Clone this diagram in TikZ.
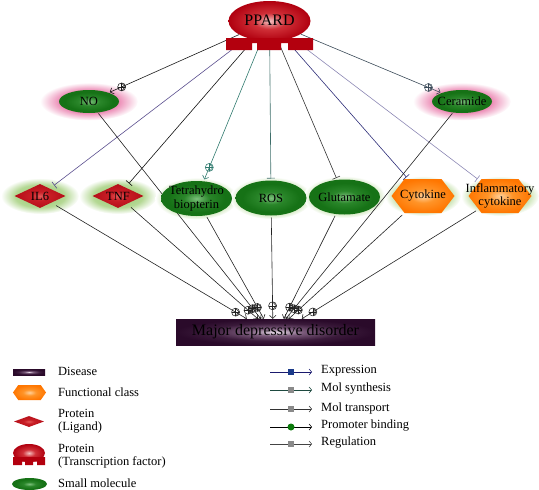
\documentclass[tikz,border=0pt]{standalone}
\usepackage{fontspec}
\setmainfont{Liberation Serif}
\usetikzlibrary{shapes.geometric,shapes.symbols,arrows.meta,decorations.markings,calc}

\definecolor{gmlight}{HTML}{7CC07C}
\definecolor{gmmid}{HTML}{2A862A}
\definecolor{gmdark}{HTML}{167216}
\definecolor{glowA}{HTML}{94C66C}
\definecolor{glowB}{HTML}{B4D894}
\definecolor{pinkA}{HTML}{DC4888}
\definecolor{pinkB}{HTML}{EC8CB6}
\definecolor{redA}{HTML}{E45858}
\definecolor{redB}{HTML}{C81E26}
\definecolor{redC}{HTML}{B40E18}
\definecolor{orA}{HTML}{FFD09A}
\definecolor{orB}{HTML}{FF9428}
\definecolor{orC}{HTML}{FF7600}
\definecolor{mdA}{HTML}{E6DAE6}
\definecolor{mdB}{HTML}{7A5A7A}
\definecolor{mdC}{HTML}{3A1A3A}
\definecolor{mdD}{HTML}{2A0A2A}
\definecolor{ppA}{HTML}{F4C0C0}
\definecolor{ppB}{HTML}{D03038}
\definecolor{ppC}{HTML}{B0000F}
\definecolor{tfbase}{HTML}{B3000E}
\definecolor{cNO}{HTML}{1A1A1A}
\definecolor{cIL}{HTML}{5A4E8E}
\definecolor{cTNF}{HTML}{111111}
\definecolor{cTHB}{HTML}{2F7A6E}
\definecolor{cROS}{HTML}{3E6E6A}
\definecolor{cGLU}{HTML}{333333}
\definecolor{cCYT}{HTML}{2D2D78}
\definecolor{cINF}{HTML}{8C88B4}
\definecolor{cCER}{HTML}{3A4A58}
\definecolor{cMDD}{HTML}{222222}
\definecolor{cEXP}{HTML}{1A1A6E}
\definecolor{sqEXP}{HTML}{1A3A8A}
\definecolor{cSYN}{HTML}{1E4A40}
\definecolor{cTRA}{HTML}{333333}
\definecolor{cREG}{HTML}{444444}
\definecolor{sqGray}{HTML}{8A8A8A}
\definecolor{pbGreen}{HTML}{0A7A0A}

\pgfdeclareradialshading{shgreen}{\pgfpoint{0bp}{0bp}}{color(0bp)=(gmlight); color(9bp)=(gmmid); color(20bp)=(gmdark); color(50bp)=(gmdark)}
\pgfdeclareradialshading{shglowg}{\pgfpoint{0bp}{0bp}}{color(0bp)=(glowA); color(16bp)=(glowB); color(25bp)=(white); color(50bp)=(white)}
\pgfdeclareradialshading{shpink}{\pgfpoint{0bp}{0bp}}{color(0bp)=(pinkA); color(15bp)=(pinkB); color(25bp)=(white); color(50bp)=(white)}
\pgfdeclareradialshading{shred}{\pgfpoint{0bp}{0bp}}{color(0bp)=(redA); color(9bp)=(redB); color(25bp)=(redC); color(50bp)=(redC)}
\pgfdeclareradialshading{shorange}{\pgfpoint{0bp}{0bp}}{color(0bp)=(orA); color(10bp)=(orB); color(25bp)=(orC); color(50bp)=(orC)}
\pgfdeclareradialshading{shmdd}{\pgfpoint{0bp}{0bp}}{color(0bp)=(mdA); color(7bp)=(mdB); color(17bp)=(mdC); color(25bp)=(mdD); color(50bp)=(mdD)}
\pgfdeclareradialshading{shppard}{\pgfpoint{0bp}{0bp}}{color(0bp)=(ppA); color(10bp)=(ppB); color(25bp)=(ppC); color(50bp)=(ppC)}

\pgfdeclarelayer{glowlayer}
\pgfdeclarelayer{edgelayer}
\pgfsetlayers{glowlayer,edgelayer,main}

\tikzset{
  lbl/.style={font=\fontsize{12.5}{13.5}\selectfont, align=center, inner sep=0pt, text=black},
  legt/.style={font=\fontsize{12.5}{13.5}\selectfont, align=left, inner sep=3pt, text=black},
  mol/.style={ellipse, draw=none, shade, shading=shgreen, minimum width=71pt, minimum height=35pt, inner sep=0pt, outer sep=2pt},
  smol/.style={mol, minimum width=60pt, minimum height=23pt, outer sep=1pt},
  lig/.style={diamond, draw=none, shade, shading=shred, minimum width=55pt, minimum height=28pt, inner sep=0pt, outer sep=5pt},
  fclass/.style={signal, signal to=west and east, signal pointer angle=105, draw=none, shade, shading=shorange, minimum width=63pt, minimum height=34pt, inner sep=0pt, outer sep=3pt},
  disease/.style={rectangle, draw=none, shade, shading=shmdd, minimum width=199pt, minimum height=26pt, inner sep=0pt},
  tf/.style={ellipse, draw=none, shade, shading=shppard, minimum width=82pt, minimum height=40pt, inner sep=0pt},
  ed/.style={line width=0.6pt},
  oplus/.style={circle, draw, line width=0.55pt, minimum size=8pt, inner sep=0pt,
    path picture={\draw[line width=0.55pt] (path picture bounding box.north) -- (path picture bounding box.south) (path picture bounding box.west) -- (path picture bounding box.east);}},
  act/.style={-{Straight Barb[length=3pt,width=6.5pt]}, postaction={decorate},
    decoration={markings, mark=at position -13pt with {\node[oplus]{};}}},
  inh/.style={-{Bar[width=8pt]}},
  legarr/.style={-{Straight Barb[length=2.5pt,width=6pt]}},
  sq/.style={rectangle, draw=none, minimum size=6pt, inner sep=0pt},
}

\begin{document}
\begin{tikzpicture}[x=1pt,y=-1pt]
\useasboundingbox (0,0) rectangle (539,490);

% ---------- main nodes ----------
\node[tf] (ppard) at (269.5,21) {};
\fill[tfbase, shift={(ppard.center)}] (-43.5,17) -- (43.5,17) -- (43.5,29) -- (18.5,29) -- (18.5,22) -- (11.5,22) -- (11.5,29) -- (-12.5,29) -- (-12.5,22) -- (-17.5,22) -- (-17.5,29) -- (-43.5,29) -- cycle;
\node[lbl, font=\fontsize{16}{17}\selectfont] (ppardt) at (269.5,20) {PPARD};

\node[smol, label={[lbl]center:NO}] (no) at (89,101.5) {};
\node[smol, label={[lbl]center:Ceramide}] (cer) at (462,101.5) {};

\node[lig, label={[lbl]center:IL6}] (il6) at (40,196) {};
\node[lig, label={[lbl]center:TNF}] (tnf) at (118,196) {};
\node[mol, label={[lbl]center:Tetrahydro\\biopterin}] (thb) at (196.5,198.5) {};
\node[mol, label={[lbl]center:ROS}] (ros) at (271,198) {};
\node[mol, label={[lbl]center:Glutamate}] (glu) at (344.5,197) {};
\node[fclass, label={[lbl]center:Cytokine}] (cyt) at (423,196) {};
\node[fclass, label={[lbl]center:Inflammatory\\cytokine}] (inf) at (500,196) {};

\node[disease, label={[lbl, font=\fontsize{16}{17}\selectfont, text=black]center:Major depressive disorder}] (mdd) at (275.5,332) {};

% ---------- glows ----------
\begin{pgfonlayer}{glowlayer}
\shade[shading=shpink] (no.center) ellipse [x radius=49pt, y radius=19pt];
\shade[shading=shpink] (cer.center) ellipse [x radius=49pt, y radius=19pt];
\shade[shading=shglowg] (il6.center) ellipse [x radius=39pt, y radius=18pt];
\shade[shading=shglowg] (tnf.center) ellipse [x radius=39pt, y radius=18pt];
\shade[shading=shglowg] (thb.center) ellipse [x radius=41pt, y radius=21pt];
\shade[shading=shglowg] (ros.center) ellipse [x radius=41pt, y radius=21pt];
\shade[shading=shglowg] (glu.center) ellipse [x radius=41pt, y radius=21pt];
\shade[shading=shglowg] (cyt.center) ellipse [x radius=38pt, y radius=20pt];
\shade[shading=shglowg] (inf.center) ellipse [x radius=39pt, y radius=20pt];
\end{pgfonlayer}

% ---------- edges ----------
\begin{pgfonlayer}{edgelayer}
\draw[ed, cNO, act] (ppard) -- (no);
\draw[ed, cIL, inh] (ppard) -- (il6);
\draw[ed, cTNF, inh] (ppard) -- (tnf);
\draw[ed, cTHB, act] (ppard) -- (thb);
\draw[ed, cROS, inh] (ppard) -- (ros);
\draw[ed, cGLU, inh] (ppard) -- (glu);
\draw[ed, cCYT, inh] (ppard) -- (cyt);
\draw[ed, cINF, inh] (ppard) -- (inf);
\draw[ed, cCER, act] (ppard) -- (cer);

\draw[ed, cMDD, act] (il6) -- ($(mdd.north west)+(71,0)$);
\draw[ed, cMDD, act] (tnf) -- ($(mdd.north west)+(82,0)$);
\draw[ed, cMDD, act] (no) -- ($(mdd.north west)+(85,0)$);
\draw[ed, cMDD, act] (thb) -- ($(mdd.north west)+(88,0)$);
\draw[ed, cMDD, act] (ros) -- ($(mdd.north west)+(97,0)$);
\draw[ed, cMDD, act] (glu) -- ($(mdd.north west)+(108,0)$);
\draw[ed, cMDD, act] (cer) -- ($(mdd.north west)+(110,0)$);
\draw[ed, cMDD, act] (cyt) -- ($(mdd.north west)+(113,0)$);
\draw[ed, cMDD, act] (inf) -- ($(mdd.north west)+(126,0)$);
\end{pgfonlayer}

% ---------- left legend ----------
\node[disease, minimum width=32pt, minimum height=6pt] (lg1) at (29,372) {};
\node[legt, anchor=west] (lt1) at (55,371) {Disease};
\node[fclass, minimum width=33pt, minimum height=15pt, signal pointer angle=110] (lg2) at (29.5,392.5) {};
\node[legt, anchor=west] (lt2) at (55,392) {Functional class};
\node[lig, minimum width=34pt, minimum height=15pt] (lg3) at (29,421.5) {};
\node[legt, anchor=west] (lt3) at (55,421) {Protein\\(Ligand)};
\node[tf, minimum width=32pt, minimum height=18pt] (lg4) at (29,453) {};
\fill[tfbase, shift={(lg4.center)}] (-16,4) -- (16,4) -- (16,12) -- (8,12) -- (8,8.5) -- (4,8.5) -- (4,12) -- (-4,12) -- (-4,8.5) -- (-7,8.5) -- (-7,12) -- (-16,12) -- cycle;
\node[legt, anchor=west] (lt4) at (55,456) {Protein\\(Transcription factor)};
\node[mol, minimum width=35pt, minimum height=12pt] (lg5) at (29.5,484) {};
\node[legt, anchor=west] (lt5) at (55,483) {Small molecule};

% ---------- right legend ----------
\coordinate (ra1) at (270,372); \coordinate (rb1) at (312,372);
\coordinate (ra2) at (270,390); \coordinate (rb2) at (312,390);
\coordinate (ra3) at (270,409); \coordinate (rb3) at (312,409);
\coordinate (ra4) at (270,427); \coordinate (rb4) at (312,427);
\coordinate (ra5) at (270,444); \coordinate (rb5) at (312,444);
\draw[ed, cEXP, legarr] (ra1) -- (rb1);
\draw[ed, cSYN, legarr] (ra2) -- (rb2);
\draw[ed, cTRA, legarr] (ra3) -- (rb3);
\draw[ed, black, legarr] (ra4) -- (rb4);
\draw[ed, cREG, legarr] (ra5) -- (rb5);
\node[sq, fill=sqEXP] (rs1) at ($(ra1)!0.5!(rb1)$) {};
\node[sq, fill=sqGray] (rs2) at ($(ra2)!0.5!(rb2)$) {};
\node[sq, fill=sqGray] (rs3) at ($(ra3)!0.5!(rb3)$) {};
\node[circle, fill=pbGreen, minimum size=7pt, inner sep=0pt] (rs4) at ($(ra4)!0.5!(rb4)$) {};
\node[sq, fill=sqGray] (rs5) at ($(ra5)!0.5!(rb5)$) {};
\node[legt, anchor=west] (rt1) at (318,371) {Expression};
\node[legt, anchor=west] (rt2) at (318,389) {Mol synthesis};
\node[legt, anchor=west] (rt3) at (318,408) {Mol transport};
\node[legt, anchor=west] (rt4) at (318,426) {Promoter binding};
\node[legt, anchor=west] (rt5) at (318,443) {Regulation};
\end{tikzpicture}
\end{document}
